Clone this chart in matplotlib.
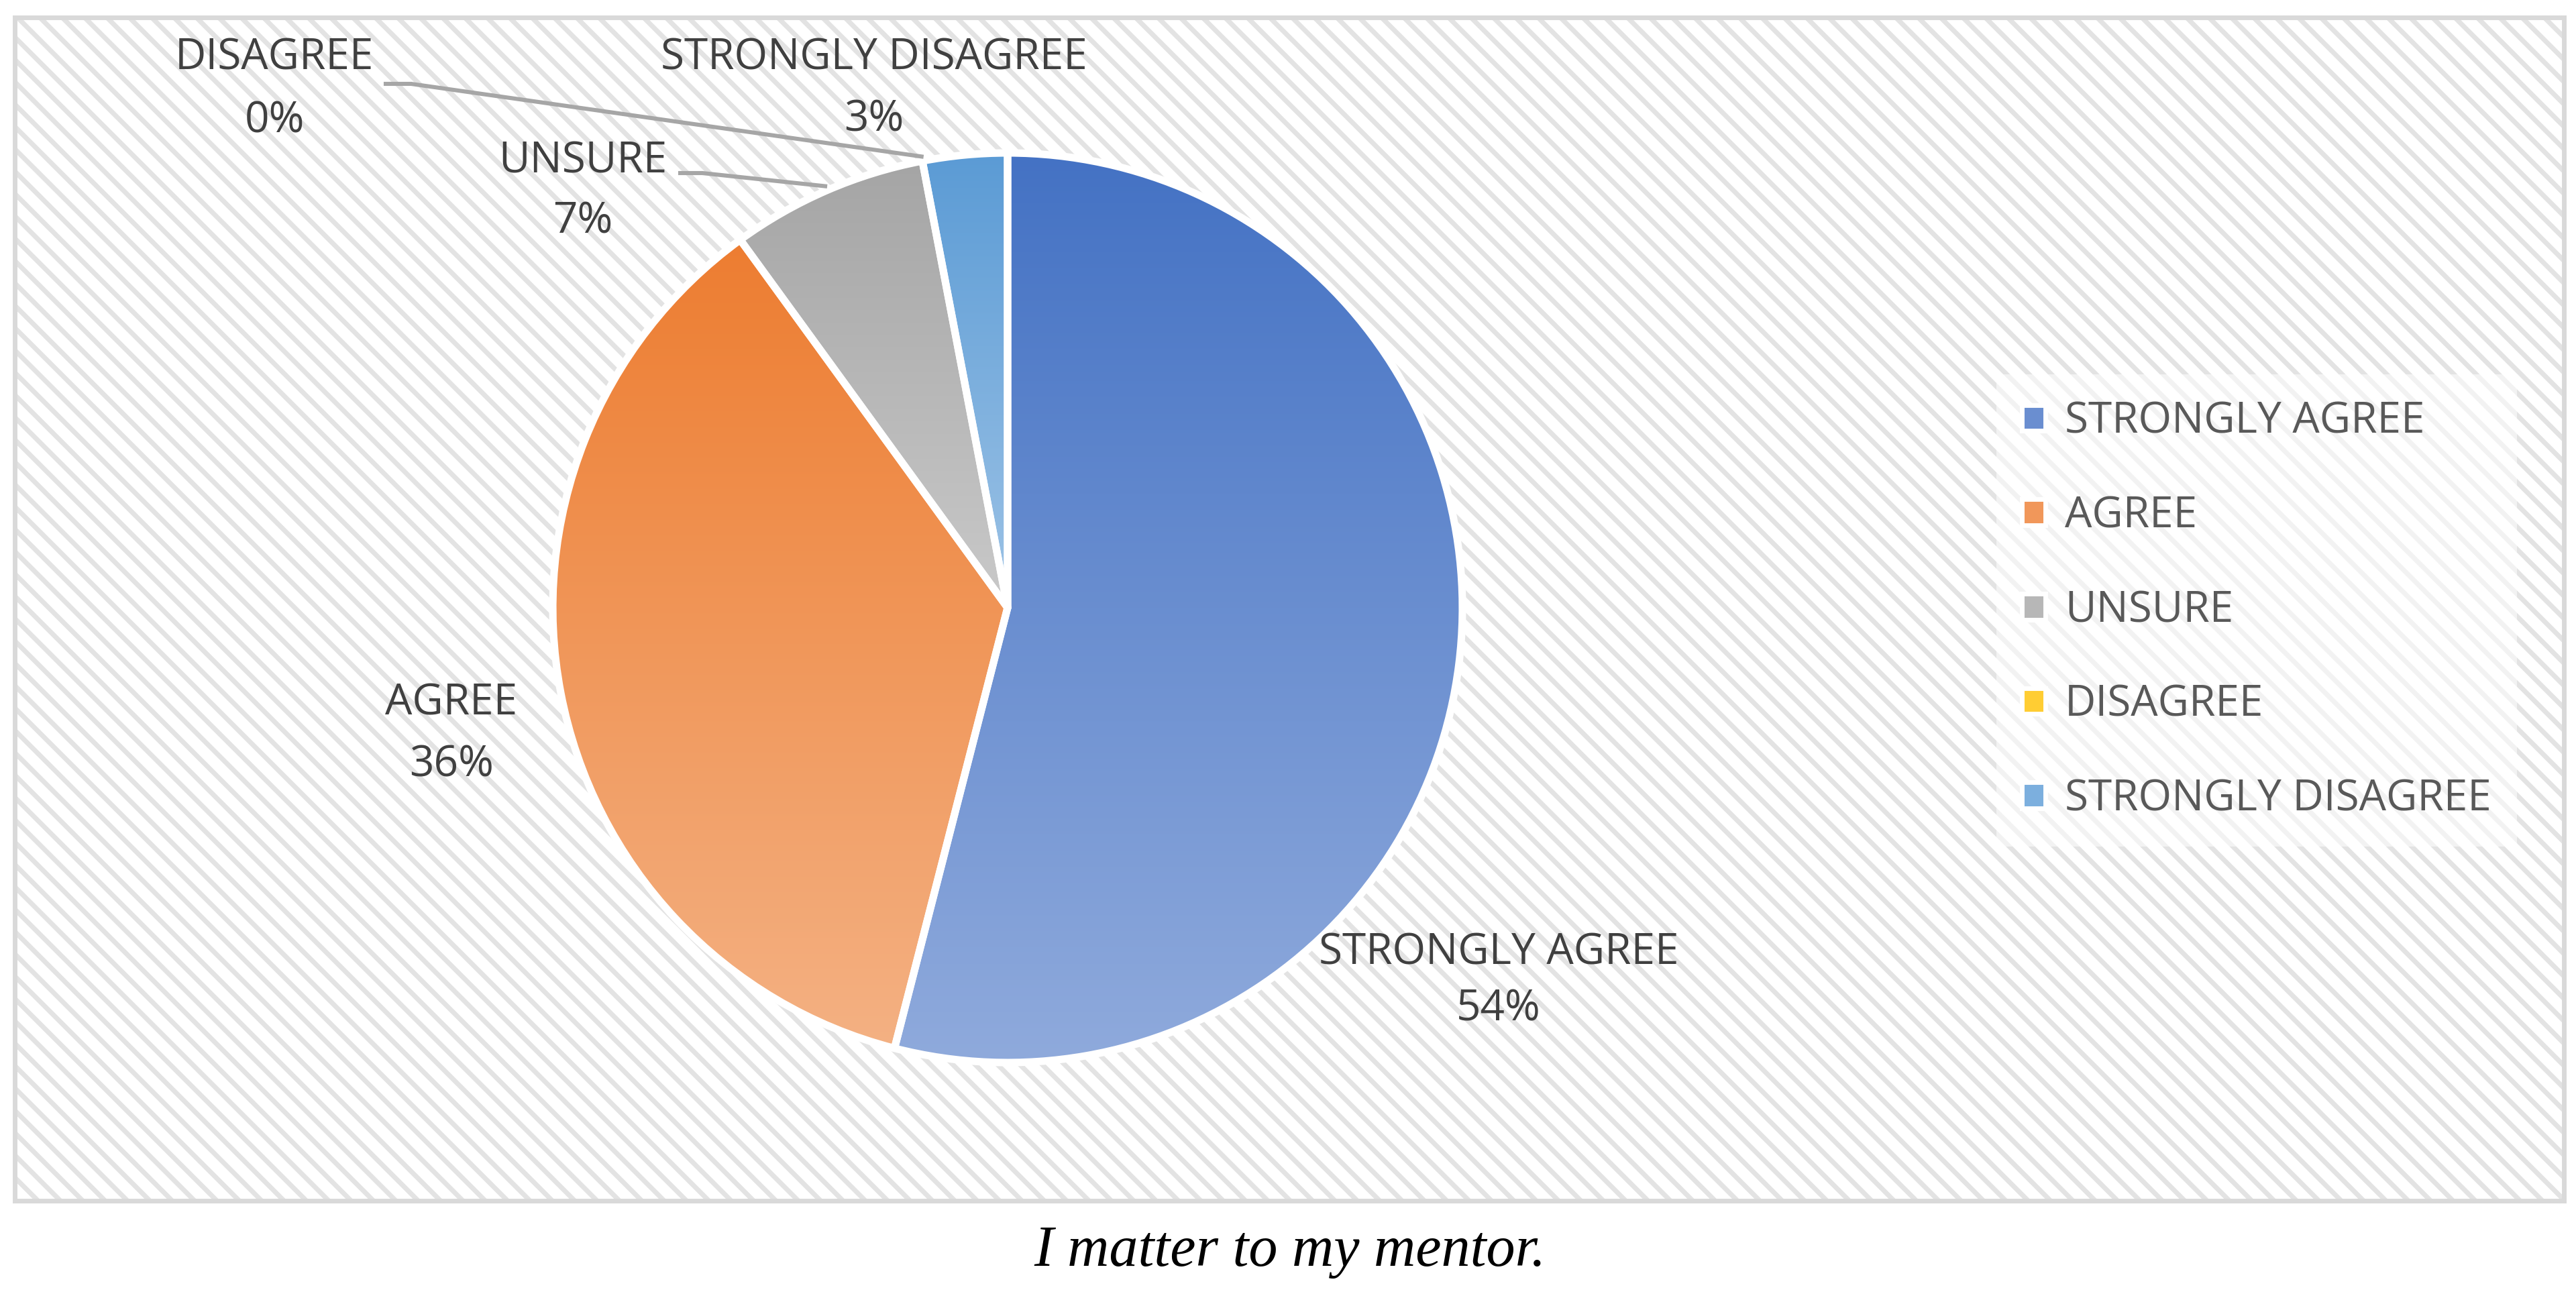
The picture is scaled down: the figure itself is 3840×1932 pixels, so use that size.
import numpy as np
import matplotlib
matplotlib.use('Agg')
import matplotlib.pyplot as plt
from matplotlib.patches import Rectangle, Patch
from matplotlib.lines import Line2D
from matplotlib.colors import to_rgb

# survey answers
categories = ['STRONGLY AGREE', 'AGREE', 'UNSURE', 'DISAGREE', 'STRONGLY DISAGREE']
values = [54, 36, 7, 0, 3]
pct_labels = ['54%', '36%', '7%', '0%', '3%']
caption = 'I matter to my mentor.'

top_colors = ['#4472C4', '#ED7D31', '#A5A5A5', '#FFC000', '#5B9BD5']
bottom_colors = ['#8FAADC', '#F4B183', '#C9C9C9', '#FFD966', '#9DC3E6']

W, H, DPI = 3840, 1932, 200
FONT = 'Open Sans'
plt.rcParams['hatch.linewidth'] = 2.6

fig = plt.figure(figsize=(W / DPI, H / DPI), dpi=DPI)


def fx(x):
    return x / W


def fy(y):
    return 1 - y / H


# striped chart area + grey border
box = (fx(22), fy(1790)), fx(3822) - fx(22), fy(26) - fy(1790)
fig.add_artist(Rectangle(*box, transform=fig.transFigure, facecolor='white',
                         edgecolor='#e3e3e3', linewidth=0, hatch='\\\\', zorder=-2))
fig.add_artist(Rectangle(*box, transform=fig.transFigure, facecolor='none',
                         edgecolor='#d9d9d9', linewidth=2.5, zorder=-1))

# pie
R_px, cx, cy, half = 678, 1502, 906, 740
ax = fig.add_axes([fx(cx - half), fy(cy + half), 2 * half / W, 2 * half / H])
ax.patch.set_alpha(0)
wedges, _ = ax.pie(values, colors=top_colors, startangle=90, counterclock=False,
                   wedgeprops=dict(edgecolor='white', linewidth=4, joinstyle='round'))

# vertical gradient inside every slice
for w, v, c0, c1 in zip(wedges, values, top_colors, bottom_colors):
    if v == 0:
        w.set_visible(False)
        continue
    bb = w.get_path().get_extents()
    t = np.linspace(0, 1, 256)[:, None, None]
    img = (1 - t) * np.array(to_rgb(c0)) + t * np.array(to_rgb(c1))
    im = ax.imshow(img, extent=[bb.x0, bb.x1, bb.y0, bb.y1], origin='upper',
                   aspect='auto', interpolation='bilinear', zorder=0.5)
    im.set_clip_path(w)
    w.set_facecolor('none')
    w.set_zorder(1)

lim = half / R_px
ax.set_xlim(-lim, lim)
ax.set_ylim(-lim, lim)
ax.set_aspect('equal')
ax.axis('off')


def pie_point(theta_deg, r=1.0):
    p = ax.transData.transform((r * np.cos(np.radians(theta_deg)), r * np.sin(np.radians(theta_deg))))
    return fig.transFigure.inverted().transform(p)


# data labels (name above, percent below)
label_pos = {
    'STRONGLY AGREE': (2234, 1420, 1505),
    'AGREE': (673, 1048, 1141),
    'UNSURE': (869, 240, 331),
    'DISAGREE': (409, 86, 181),
    'STRONGLY DISAGREE': (1303, 86, 179),
}
for cat, pct in zip(categories, pct_labels):
    x, y1, y2 = label_pos[cat]
    fig.text(fx(x), fy(y1), cat, ha='center', va='center', fontsize=23,
             color='#404040', family=FONT)
    fig.text(fx(x), fy(y2), pct, ha='center', va='center', fontsize=23,
             color='#404040', family=FONT)

# leader lines
leaders = [
    ((575, 125), (613, 125), wedges[3].theta1),
    ((1014, 258), (1047, 258), (wedges[2].theta1 + wedges[2].theta2) / 2),
]
for p0, p1, th in leaders:
    end = pie_point(th, 1.01)
    fig.add_artist(Line2D([fx(p0[0]), fx(p1[0]), end[0]], [fy(p0[1]), fy(p1[1]), end[1]],
                          transform=fig.transFigure, color='#a6a6a6', linewidth=2.2,
                          solid_joinstyle='miter'))

# legend
handles = [Patch(facecolor=tuple((np.array(to_rgb(a)) + np.array(to_rgb(b))) / 2),
                 edgecolor='white', linewidth=2.5)
           for a, b in zip(top_colors, bottom_colors)]
leg = fig.legend(handles, categories, loc='center left', bbox_to_anchor=(fx(2976), fy(910)),
                 frameon=True, facecolor='white', framealpha=0.55, edgecolor='none',
                 fancybox=False, prop={'family': FONT, 'size': 23},
                 handlelength=0.55, handleheight=0.55, handletextpad=0.45,
                 labelspacing=1.2, borderpad=0.6, borderaxespad=0)
for txt in leg.get_texts():
    txt.set_color('#595959')

fig.text(fx(1923), fy(1866), caption, ha='center', va='center', fontsize=31,
         style='italic', family='Liberation Serif', color='black')

fig.savefig('out.png', dpi=DPI)
